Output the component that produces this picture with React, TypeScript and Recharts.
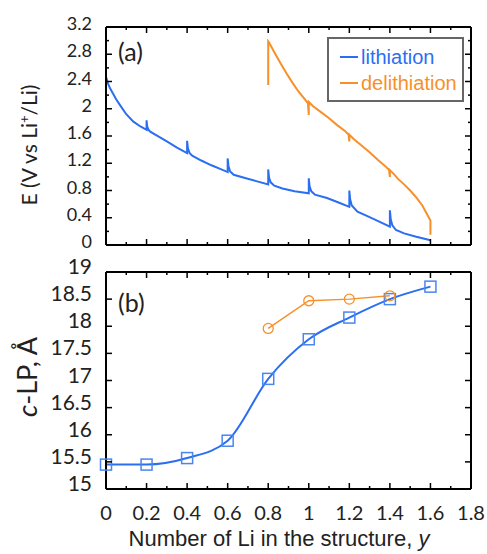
import { Legend, Line, LineChart, ReferenceLine, XAxis, YAxis } from 'recharts'

// shared x axis: number of Li, y
const LI_TICKS = [0, 0.1, 0.2, 0.3, 0.4, 0.5, 0.6, 0.7, 0.8, 0.9, 1, 1.1, 1.2, 1.3, 1.4, 1.5, 1.6, 1.7, 1.8]
const E_TICKS = [0, 0.2, 0.4, 0.6, 0.8, 1, 1.2, 1.4, 1.6, 1.8, 2, 2.2, 2.4, 2.6, 2.8, 3, 3.2]
const C_TICKS = [15, 15.5, 16, 16.5, 17, 17.5, 18, 18.5, 19]

// (a) galvanostatic curves
const LITH_Y = [0, 0.01, 0.02, 0.035, 0.05, 0.07, 0.1, 0.135, 0.17, 0.2, 0.2, 0.203, 0.21, 0.22, 0.26, 0.3, 0.35, 0.4, 0.4, 0.404, 0.412, 0.425, 0.47, 0.52, 0.56, 0.6, 0.6, 0.604, 0.612, 0.63, 0.69, 0.75, 0.8, 0.8, 0.804, 0.812, 0.83, 0.87, 0.93, 1, 1, 1.004, 1.012, 1.03, 1.09, 1.15, 1.2, 1.2, 1.204, 1.212, 1.24, 1.3, 1.35, 1.4, 1.4, 1.404, 1.412, 1.43, 1.47, 1.53, 1.6]
const LITH_E = [2.47, 2.37, 2.3, 2.22, 2.14, 2.05, 1.92, 1.81, 1.74, 1.69, 1.83, 1.74, 1.69, 1.66, 1.59, 1.52, 1.43, 1.35, 1.53, 1.42, 1.35, 1.31, 1.24, 1.17, 1.12, 1.07, 1.27, 1.16, 1.08, 1.03, 0.98, 0.93, 0.89, 1.11, 0.99, 0.92, 0.87, 0.83, 0.79, 0.76, 0.98, 0.86, 0.79, 0.74, 0.69, 0.62, 0.56, 0.8, 0.67, 0.58, 0.49, 0.41, 0.34, 0.27, 0.51, 0.38, 0.29, 0.22, 0.17, 0.12, 0.07]
const DELITH_Y = [1.6, 1.6, 1.58, 1.56, 1.53, 1.5, 1.47, 1.44, 1.42, 1.4, 1.4, 1.396, 1.38, 1.34, 1.3, 1.26, 1.22, 1.2, 1.2, 1.196, 1.18, 1.14, 1.1, 1.06, 1.02, 1, 1, 0.996, 0.98, 0.95, 0.92, 0.89, 0.86, 0.83, 0.805, 0.8, 0.8]
const DELITH_E = [0.15, 0.36, 0.47, 0.58, 0.7, 0.8, 0.89, 0.97, 1.04, 1.1, 1.0, 1.1, 1.15, 1.25, 1.36, 1.46, 1.56, 1.62, 1.52, 1.62, 1.67, 1.76, 1.86, 1.95, 2.04, 2.1, 1.91, 2.08, 2.14, 2.25, 2.38, 2.52, 2.67, 2.83, 2.97, 2.99, 2.35]
const CURVE_NAMES = ['lithiation', 'delithiation']

// (b) c lattice parameter
const LP_Y = [0, 0.2, 0.4, 0.6, 0.8, 1, 1.2, 1.4, 1.6]
const LP_LITH = [15.45, 15.45, 15.57, 15.89, 17.03, 17.76, 18.16, 18.5, 18.73]
const LP_DELITH_Y = [0.8, 1, 1.2, 1.4]
const LP_DELITH = [17.96, 18.47, 18.5, 18.56]

const BLUE = '#2a6ef2'
const BLUE_MARK = '#4a86f0'
const ORANGE = '#f7902a'
const TICK_FONT = 'Lato, sans-serif'
const PLOT_W = 365

const lithCurve = LITH_Y.map((y, i) => ({ y, v: LITH_E[i] }))
const delithCurve = DELITH_Y.map((y, i) => ({ y, v: DELITH_E[i] }))
const lpLith = LP_Y.map((y, i) => ({ y, v: LP_LITH[i] }))
const lpDelith = LP_DELITH_Y.map((y, i) => ({ y, v: LP_DELITH[i] }))

const onStep = (v: number, step: number) => Math.abs(v / step - Math.round(v / step)) < 1e-6

// inward ticks on both sides of the frame, label only on the major ones
function yTick(step: number, fontSize: number, dy: number) {
  return (props: any) => {
    const { x, y, payload } = props
    const major = onStep(payload.value, step)
    const len = major ? 6 : 3
    return (
      <g>
        <line x1={x} x2={x + len} y1={y} y2={y} stroke="#000" strokeWidth={1.5} />
        <line x1={x + PLOT_W} x2={x + PLOT_W - len} y1={y} y2={y} stroke="#000" strokeWidth={1.5} />
        {major && (
          <text x={x - 14} y={y + dy} textAnchor="end" fontFamily={TICK_FONT} fontSize={fontSize} fill="#222">
            {String(payload.value)}
          </text>
        )}
      </g>
    )
  }
}

function xTick(plotH: number, labels: boolean) {
  return (props: any) => {
    const { x, y, payload } = props
    const major = onStep(payload.value, 0.2)
    const len = major ? 6 : 3
    return (
      <g>
        <line x1={x} x2={x} y1={y} y2={y - len} stroke="#000" strokeWidth={1.5} />
        <line x1={x} x2={x} y1={y - plotH} y2={y - plotH + len} stroke="#000" strokeWidth={1.5} />
        {labels && major && (
          <text x={x} y={y + 31} textAnchor="middle" fontFamily={TICK_FONT} fontSize={20} fill="#222">
            {String(payload.value)}
          </text>
        )}
      </g>
    )
  }
}

function LegendBox(props: any) {
  const items = [...(props.payload ?? [])].sort(
    (a: any, b: any) => CURVE_NAMES.indexOf(a.value) - CURVE_NAMES.indexOf(b.value)
  )
  return (
    <div
      style={{
        boxSizing: 'border-box',
        width: 137,
        height: 65,
        border: '2px solid #666',
        background: '#fff',
        padding: '5px 0 0 11px',
        fontFamily: '"Liberation Sans", Arial, sans-serif',
        fontSize: 20,
        lineHeight: '26px',
      }}
    >
      {items.map((it: any) => (
        <div key={it.value} style={{ display: 'flex', alignItems: 'center', color: it.color }}>
          <span style={{ display: 'inline-block', width: 18, height: 2, background: it.color, marginRight: 3 }} />
          {it.value}
        </div>
      ))}
    </div>
  )
}

const SquareDot = (p: any) => (
  <rect key={p.index} x={p.cx - 5.5} y={p.cy - 5.5} width={11} height={11} fill="none" stroke={BLUE_MARK} strokeWidth={1.5} />
)
const CircleDot = (p: any) => (
  <circle key={p.index} cx={p.cx} cy={p.cy} r={5} fill="none" stroke={ORANGE} strokeWidth={1.3} />
)

export default function App() {
  return (
    <div style={{ position: 'absolute', left: 0, top: 0, width: 487, height: 554, background: '#fff' }}>
      <div style={{ position: 'absolute', left: 0, top: 250 }}>
        <LineChart width={487} height={304} margin={{ top: 22, right: 16, bottom: 0, left: 0 }}>
          <XAxis
            dataKey="y"
            type="number"
            domain={[0, 1.8]}
            ticks={LI_TICKS}
            interval={0}
            height={65}
            tickSize={0}
            tickMargin={0}
            tickLine={false}
            axisLine={{ stroke: '#000', strokeWidth: 2 }}
            tick={xTick(217, true)}
            allowDuplicatedCategory={false}
          />
          <YAxis
            type="number"
            domain={[15, 19]}
            ticks={C_TICKS}
            interval={0}
            width={106}
            tickSize={0}
            tickMargin={0}
            tickLine={false}
            axisLine={{ stroke: '#000', strokeWidth: 2 }}
            tick={yTick(0.5, 21, 2)}
            label={{
              content: () => (
                <text transform="translate(37 127) rotate(-90)" textAnchor="middle" fontFamily={TICK_FONT} fontSize={27} fill="#222">
                  <tspan fontStyle="italic">c</tspan>-LP, Å
                </text>
              ),
            }}
          />
          <ReferenceLine x={1.8} stroke="#000" strokeWidth={2} />
          <ReferenceLine y={19} stroke="#000" strokeWidth={2} />
          <Line data={lpLith} dataKey="v" type="monotone" stroke={BLUE} strokeWidth={2} dot={SquareDot} isAnimationActive={false} />
          <Line data={lpDelith} dataKey="v" type="linear" stroke={ORANGE} strokeWidth={1.5} dot={CircleDot} isAnimationActive={false} />
          <text x={118} y={62} fontFamily={TICK_FONT} fontSize={25} fill="#222">(b)</text>
          <text x={279} y={296} textAnchor="middle" fontFamily='"Liberation Sans", Arial, sans-serif' fontSize={22} fill="#222">
            Number of Li in the structure, <tspan fontStyle="italic">y</tspan>
          </text>
        </LineChart>
      </div>
      <div style={{ position: 'absolute', left: 0, top: 0 }}>
        <LineChart width={487} height={258} margin={{ top: 27, right: 16, bottom: 0, left: 0 }}>
          <XAxis
            dataKey="y"
            type="number"
            domain={[0, 1.8]}
            ticks={LI_TICKS}
            interval={0}
            height={13}
            tickSize={0}
            tickMargin={0}
            tickLine={false}
            axisLine={{ stroke: '#000', strokeWidth: 2 }}
            tick={xTick(218, false)}
            allowDuplicatedCategory={false}
          />
          <YAxis
            type="number"
            domain={[0, 3.2]}
            ticks={E_TICKS}
            interval={0}
            width={106}
            tickSize={0}
            tickMargin={0}
            tickLine={false}
            axisLine={{ stroke: '#000', strokeWidth: 2 }}
            tick={yTick(0.4, 18, 3)}
            label={{
              content: () => (
                <text transform="translate(37 145) rotate(-90)" textAnchor="middle" fontFamily={TICK_FONT} fontSize={21} fill="#222">
                  E (V vs Li<tspan dy={-8} fontSize={13}>+</tspan>
                  <tspan dy={8}>/Li)</tspan>
                </text>
              ),
            }}
          />
          <ReferenceLine x={1.8} stroke="#000" strokeWidth={2} />
          <ReferenceLine y={3.2} stroke="#000" strokeWidth={2} />
          <Line data={lithCurve} dataKey="v" name="lithiation" type="linear" stroke={BLUE} strokeWidth={2} dot={false} isAnimationActive={false} />
          <Line data={delithCurve} dataKey="v" name="delithiation" type="linear" stroke={ORANGE} strokeWidth={2} dot={false} isAnimationActive={false} />
          <Legend layout="horizontal" verticalAlign="middle" content={LegendBox} wrapperStyle={{ left: 327, top: 37, width: 137 }} />
          <text x={118} y={61} fontFamily={TICK_FONT} fontSize={25} fill="#222">(a)</text>
        </LineChart>
      </div>
    </div>
  )
}
